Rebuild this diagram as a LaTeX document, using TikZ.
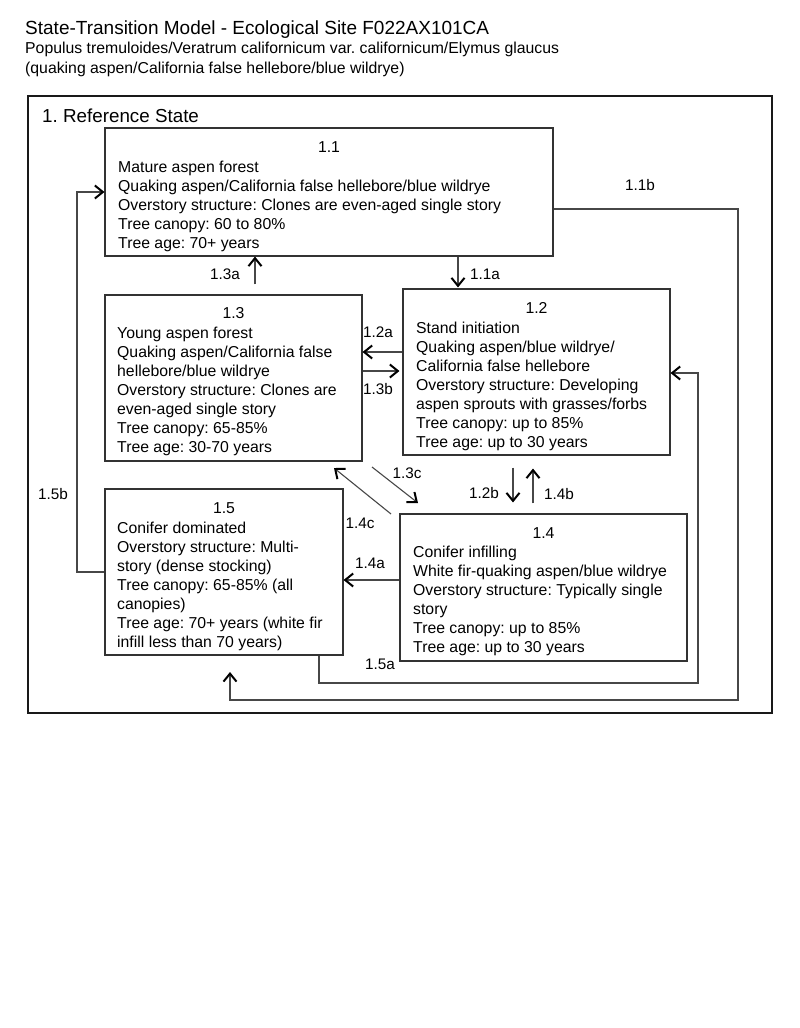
\documentclass[tikz,border=0pt]{standalone}
\usepackage{fontspec}
\setmainfont{Liberation Sans}
\usetikzlibrary{arrows.meta}
\begin{document}
\frenchspacing
\begin{tikzpicture}[x=1pt,y=-1pt,
  box/.style={draw=black!80,line width=1.1pt,inner sep=0pt},
  frame/.style={draw=black!90,line width=2pt,inner sep=0pt},
  body/.style={anchor=base west,inner sep=0pt,align=left,font=\fontsize{15.8}{19}\selectfont},
  boxtitle/.style={inner sep=0pt,font=\fontsize{15.8}{19}\selectfont},
  lab/.style={inner sep=0pt,font=\fontsize{15.3}{18}\selectfont},
  head/.style={anchor=base west,inner sep=0pt},
  conn/.style={draw=black!72,line width=1.1pt},
  arr/.style={conn,-{Straight Barb[length=8pt,width=13pt,line width=2pt,color=black]}}
]
\useasboundingbox (0,0) rectangle (800,1028);
\fill[white] (0,0) rectangle (800,1028);

% header
\node[head,font=\fontsize{19}{22}\selectfont] (title) at (25,34.5) {State-Transition Model - Ecological Site F022AX101CA};
\node[head,font=\fontsize{15.8}{18}\selectfont] (sub1) at (25,53.5) {Populus tremuloides/Veratrum californicum var. californicum/Elymus glaucus};
\node[head,font=\fontsize{15.8}{18}\selectfont] (sub2) at (25,73.5) {(quaking aspen/California false hellebore/blue wildrye)};

% state frame
\node[frame,minimum width=744pt,minimum height=617pt] (frm) at (400,404.5) {};
\node[head,font=\fontsize{18.8}{22}\selectfont] (state) at (42,122) {1. Reference State};

% boxes
\node[box,minimum width=448pt,minimum height=128pt] (b11) at (329,192) {};
\node[box,minimum width=257pt,minimum height=166pt] (b13) at (233.5,378) {};
\node[box,minimum width=267pt,minimum height=166pt] (b12) at (536.5,372) {};
\node[box,minimum width=238pt,minimum height=166pt] (b15) at (224,572) {};
\node[box,minimum width=287pt,minimum height=147pt] (b14) at (543.5,587.5) {};

% box titles
\node[boxtitle] (h11) at (329,147) {1.1};
\node[boxtitle] (h13) at (233.5,313) {1.3};
\node[boxtitle] (h12) at (536.5,308) {1.2};
\node[boxtitle] (h15) at (224,508) {1.5};
\node[boxtitle] (h14) at (543.5,533) {1.4};

% box texts (anchored at the baseline of the last line)
\node[body] (t11) at (118,248) {Mature aspen forest\\Quaking aspen/California false hellebore/blue wildrye\\Overstory structure: Clones are even-aged single story\\Tree canopy: 60 to 80\%\\Tree age: 70+ years};
\node[body] (t13) at (117,452) {Young aspen forest\\Quaking aspen/California false\\hellebore/blue wildrye\\Overstory structure: Clones are\\even-aged single story\\Tree canopy: 65-85\%\\Tree age: 30-70 years};
\node[body] (t12) at (416,447) {Stand initiation\\Quaking aspen/blue wildrye/\\California false hellebore\\Overstory structure: Developing\\aspen sprouts with grasses/forbs\\Tree canopy: up to 85\%\\Tree age: up to 30 years};
\node[body] (t15) at (117,647) {Conifer dominated\\Overstory structure: Multi-\\story (dense stocking)\\Tree canopy: 65-85\% (all\\canopies)\\Tree age: 70+ years (white fir\\infill less than 70 years)};
\node[body] (t14) at (413,652) {Conifer infilling\\White fir-quaking aspen/blue wildrye\\Overstory structure: Typically single\\story\\Tree canopy: up to 85\%\\Tree age: up to 30 years};

% free-end coordinates
\coordinate (c13cs) at (372,467);
\coordinate (c13ce) at (418,503);
\coordinate (c14cs) at (391,514);
\coordinate (c14ce) at (334,468);
\coordinate (c11be) at (230,672);

% connectors
\draw[arr,shorten >=1pt] (b11.south -| 458,0) -- (b12.north -| 458,0);
\draw[arr,shorten <=10pt] (b13.north -| 255,0) -- (b11.south -| 255,0);
\draw[arr] (b12.west |- 0,352) -- (b13.east |- 0,352);
\draw[arr,shorten >=3pt] (b13.east |- 0,371) -- (b12.west |- 0,371);
\draw[arr] (c13cs) -- (c13ce);
\draw[arr] (c14cs) -- (c14ce);
\draw[arr,shorten <=12pt,shorten >=11pt] (b12.south -| 513,0) -- (b14.north -| 513,0);
\draw[arr,shorten <=10pt,shorten >=13pt] (b14.north -| 533,0) -- (b12.south -| 533,0);
\draw[arr] (b14.west |- 0,580) -- (b15.east |- 0,580);
\draw[arr] (b15.west |- 0,572) -| (77,192) -- (b11.west |- 0,192);
\draw[arr] (b15.south -| 319,0) |- (698,683) |- (b12.east |- 0,373);
\draw[arr] (b11.east |- 0,209) -| (738,700) -| (c11be);

% labels
\node[lab] (l11a) at (485,274) {1.1a};
\node[lab] (l13a) at (225,274) {1.3a};
\node[lab] (l12a) at (378,332) {1.2a};
\node[lab] (l13b) at (378,389) {1.3b};
\node[lab] (l13c) at (407,473) {1.3c};
\node[lab] (l14c) at (360,523) {1.4c};
\node[lab] (l12b) at (484,493) {1.2b};
\node[lab] (l14b) at (559,494) {1.4b};
\node[lab] (l14a) at (370,563) {1.4a};
\node[lab] (l15b) at (53,494) {1.5b};
\node[lab] (l15a) at (380,664) {1.5a};
\node[lab] (l11b) at (640,185) {1.1b};
\end{tikzpicture}
\end{document}
